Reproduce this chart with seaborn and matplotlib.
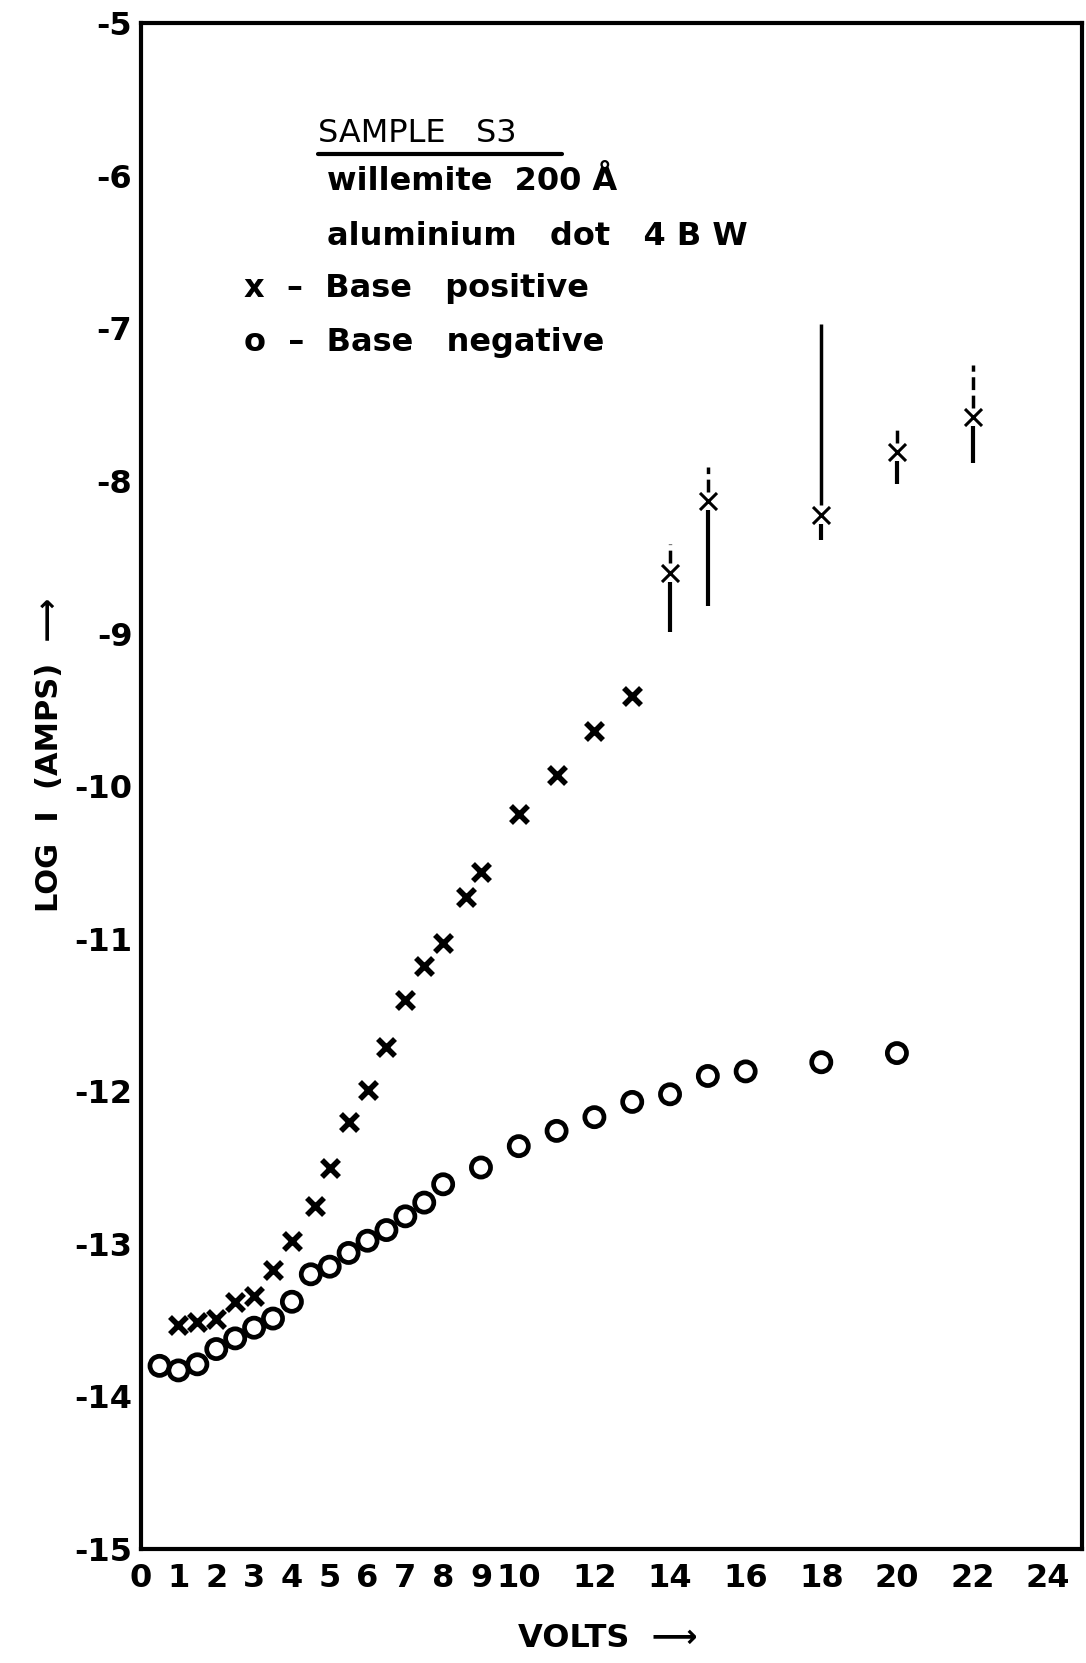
import matplotlib
matplotlib.use("Agg")
import matplotlib.pyplot as plt
import seaborn as sns
import pandas as pd

# base positive (x markers)
volts_pos = [1, 1.5, 2, 2.5, 3, 3.5, 4, 4.6, 5, 5.5, 6, 6.5, 7, 7.5, 8, 8.6, 9, 10, 11, 12, 13]
logi_pos = [-13.53, -13.51, -13.49, -13.38, -13.34, -13.17, -12.98, -12.75, -12.50, -12.20,
            -11.99, -11.71, -11.40, -11.18, -11.03, -10.73, -10.56, -10.18, -9.93, -9.64, -9.41]

# base positive points with spread bars
err_volts = [14, 15, 18, 20, 22]
err_logi = [-8.60, -8.13, -8.22, -7.81, -7.58]
err_top = [-8.41, -7.91, -6.97, -7.66, -7.24]
err_bottom = [-8.99, -8.82, -8.39, -8.02, -7.88]
err_top_style = ["dashed", "dashed", "solid", "dashed", "dashed"]

# base negative (o markers)
volts_neg = [0.5, 1, 1.5, 2, 2.5, 3, 3.5, 4, 4.5, 5, 5.5, 6, 6.5, 7, 7.5, 8, 9, 10, 11, 12,
             13, 14, 15, 16, 18, 20]
logi_neg = [-13.80, -13.83, -13.79, -13.69, -13.62, -13.55, -13.49, -13.38, -13.20, -13.15,
            -13.06, -12.98, -12.91, -12.82, -12.73, -12.61, -12.50, -12.36, -12.26, -12.17,
            -12.07, -12.02, -11.90, -11.87, -11.81, -11.75]

x_ticks = [0, 1, 2, 3, 4, 5, 6, 7, 8, 9, 10, 12, 14, 16, 18, 20, 22, 24]
y_ticks = [-5, -6, -7, -8, -9, -10, -11, -12, -13, -14, -15]

sns.set_theme(style="white")
plt.rcParams["font.family"] = ["DejaVu Sans"]
plt.rcParams["axes.unicode_minus"] = False
plt.rcParams["text.color"] = "black"

fig = plt.figure(figsize=(10.86, 16.63), dpi=100)
ax = fig.add_axes([0.1295, 0.0686, 0.867, 0.9174])

pos_df = pd.DataFrame({"volts": volts_pos, "logi": logi_pos})
neg_df = pd.DataFrame({"volts": volts_neg, "logi": logi_neg})
err_df = pd.DataFrame({"volts": err_volts, "logi": err_logi})

# spread bars
for v, y, top, bot, ls in zip(err_volts, err_logi, err_top, err_bottom, err_top_style):
    ax.vlines(v, bot, y - 0.06, color="black", linewidth=3)
    ax.vlines(v, y + 0.06, top, color="black", linewidth=2.5, linestyles=ls)

sns.scatterplot(data=pos_df, x="volts", y="logi", marker="x", s=150, color="black",
                linewidth=4, ax=ax, zorder=3)
sns.scatterplot(data=err_df, x="volts", y="logi", marker="x", s=150, color="black",
                linewidth=2.2, ax=ax, zorder=3)
sns.scatterplot(data=neg_df, x="volts", y="logi", marker="o", s=190, facecolor="none",
                edgecolor="black", linewidth=3.4, ax=ax, zorder=3)

ax.set_xlim(0, 24.9)
ax.set_ylim(-15, -5)
ax.set_xticks(x_ticks)
ax.set_xticklabels([str(t) for t in x_ticks])
ax.set_yticks(y_ticks)
ax.set_yticklabels([str(t) for t in y_ticks])
ax.tick_params(axis="both", direction="in", length=13, width=2.2, colors="black",
               labelsize=23)
ax.tick_params(axis="x", pad=10)
ax.tick_params(axis="y", pad=6)
for lab in ax.get_xticklabels() + ax.get_yticklabels():
    lab.set_fontweight("bold")
for sp in ax.spines.values():
    sp.set_linewidth(3)
    sp.set_color("black")
ax.set_xlabel("")
ax.set_ylabel("")

fig.text(0.046, 0.546, "LOG  I  (AMPS)  \u27f6", rotation=90, ha="center", va="center",
         fontsize=22, fontweight="bold", color="black")
fig.text(0.56, 0.015, "VOLTS  \u27f6", ha="center", va="center", fontsize=23,
         fontweight="bold", color="black")

# annotation block
ax.text(0.188, 0.928, "SAMPLE   S3", transform=ax.transAxes, fontsize=23, va="center",
        color="black")
ax.plot([0.188, 0.448], [0.914, 0.914], transform=ax.transAxes, color="black", linewidth=3)
ax.text(0.198, 0.896, "willemite  200 \u00c5", transform=ax.transAxes, fontsize=23,
        va="center", fontweight="bold", color="black")
ax.text(0.198, 0.860, "aluminium   dot   4 B W", transform=ax.transAxes, fontsize=23,
        va="center", fontweight="bold", color="black")
ax.text(0.110, 0.826, "x  \u2013  Base   positive", transform=ax.transAxes, fontsize=23,
        va="center", fontweight="bold", color="black")
ax.text(0.110, 0.791, "o  \u2013  Base   negative", transform=ax.transAxes, fontsize=23,
        va="center", fontweight="bold", color="black")

fig.savefig("out.png", dpi=100, facecolor="white")
